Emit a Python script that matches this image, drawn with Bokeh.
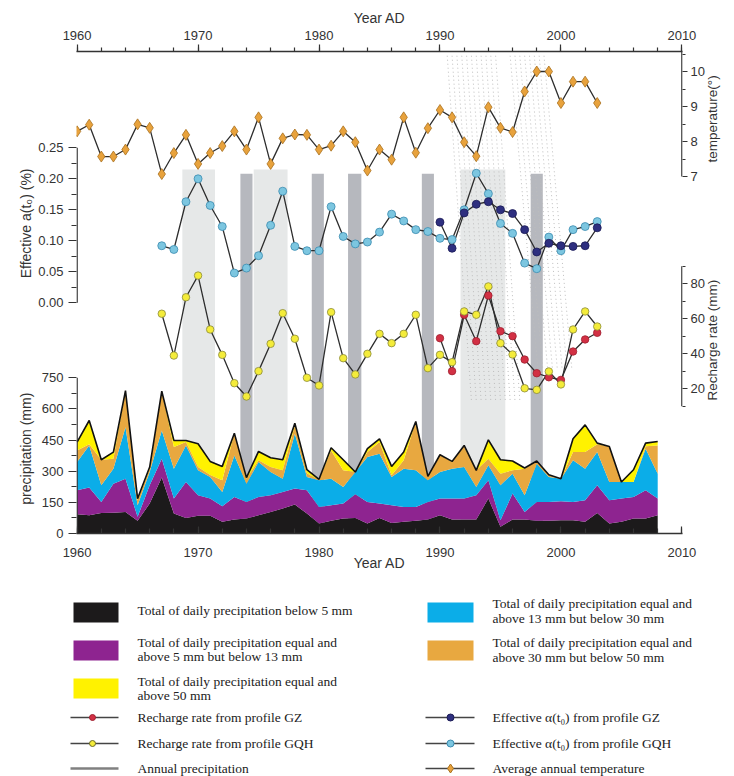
import numpy as np
from bokeh.plotting import figure
from bokeh.layouts import column
from bokeh.models import (Range1d, LinearAxis, FixedTicker, CustomJSTickFormatter,
                          ColumnDataSource)
from bokeh.core.properties import value
from bokeh.embed import file_html
from bokeh.resources import INLINE

# ---------------- data ----------------
years_p = list(range(1960, 2009))
below5 = [93, 88, 99, 100, 104, 61, 144, 269, 96, 75,
          85, 85, 56, 67, 72, 88, 104, 120, 139, 96,
          48, 61, 72, 75, 48, 75, 51, 56, 61, 67,
          88, 67, 67, 67, 168, 32, 67, 67, 61, 61,
          64, 64, 56, 99, 48, 56, 72, 72, 88]
from5to13 = [115, 133, 53, 140, 160, 19, 88, 91, 72, 173,
             99, 83, 75, 109, 80, 88, 80, 80, 77, 112,
             80, 75, 72, 114, 104, 69, 85, 72, 67, 85,
             80, 101, 101, 117, 88, 32, 125, 37, 91, 91,
             91, 88, 104, 133, 112, 112, 104, 136, 80]
from13to30 = [136, 203, 80, 72, 248, 56, 64, 136, 144, 176,
              120, 104, 69, 200, 88, 168, 112, 64, 264, 64,
              128, 128, 80, 107, 216, 240, 136, 184, 176, 104,
              128, 144, 152, 40, 72, 168, 96, 80, 184, 120,
              109, 200, 152, 160, 88, 80, 72, 200, 120]
from30to50 = [56, 6, 123, 48, 176, 24, 14, 189, 104, 16,
              16, 10, 56, 107, 24, 8, 24, 40, 40, 18,
              2, 136, 80, 0, 24, 56, 8, 40, 235, 19,
              83, 32, 104, 80, 32, 56, 16, 128, 13, 11,
              0, 40, 80, 38, 171, 0, 0, 12, 136]
above50 = [40, 114, 0, 32, 0, 8, 10, 0, 32, 8,
           112, 65, 67, 0, 5, 43, 45, 51, 11, 17,
           3, 13, 51, 0, 16, 16, 43, 40, 0, 0,
           0, 3, 0, 0, 91, 67, 45, 3, 0, 0,
           0, 64, 131, 5, 0, 0, 59, 15, 19]

years_t = list(range(1960, 2004))
temperature = [8.29, 8.48, 7.57, 7.57, 7.77, 8.49, 8.39, 7.07, 7.67, 8.19,
               7.36, 7.67, 7.87, 8.29, 7.77, 8.69, 7.36, 8.09, 8.20, 8.19,
               7.77, 7.88, 8.29, 7.98, 7.17, 7.77, 7.48, 8.69, 7.68, 8.38,
               8.90, 8.69, 7.98, 7.58, 8.98, 8.39, 8.27, 9.43, 10.0, 10.0,
               9.10, 9.71, 9.71, 9.10]

years_gqh = list(range(1967, 2004))
alpha_gqh = [0.092, 0.086, 0.163, 0.200, 0.157, 0.123, 0.048, 0.056, 0.076, 0.125,
             0.180, 0.091, 0.084, 0.084, 0.155, 0.107, 0.095, 0.098, 0.114, 0.143,
             0.132, 0.118, 0.115, 0.104, 0.102, 0.150, 0.209, 0.176, 0.128, 0.112,
             0.064, 0.055, 0.106, 0.084, 0.118, 0.123, 0.131]
recharge_gqh = [62.9, 39.0, 72.3, 84.7, 53.9, 39.4, 23.2, 15.6, 30.1, 45.7,
                63.2, 48.6, 26.3, 21.9, 63.8, 37.5, 28.2, 40.0, 51.4, 46.1,
                51.4, 62.3, 31.8, 39.4, 35.2, 64.2, 62.3, 78.5, 46.1, 39.6,
                20.3, 19.4, 29.9, 22.5, 53.9, 64.2, 55.6]

years_gz = list(range(1990, 2004))
alpha_gz = [0.130, 0.088, 0.145, 0.159, 0.163, 0.150, 0.144, 0.118, 0.082, 0.096,
            0.092, 0.091, 0.092, 0.121]
recharge_gz = [48.9, 30.1, 62.3, 47.2, 73.3, 52.9, 50.1, 36.7, 28.9, 26.6,
               25.1, 41.3, 48.2, 52.0]

light_bands = [(1968.7, 1971.4), (1974.6, 1977.4), (1991.7, 1995.4)]
dark_bands = [(1973.5, 1974.5), (1979.4, 1980.4), (1982.4, 1983.5),
              (1988.5, 1989.5), (1997.5, 1998.5)]

guide_group1 = [1990.6, 1991.0, 1991.4, 1991.8, 1992.2, 1992.6, 1993.0,
                1993.4, 1993.8, 1994.2, 1994.6]
guide_group2 = [1995.8, 1996.2, 1996.6, 1997.0, 1997.4, 1997.8, 1998.2, 1998.6]

year_major = list(range(1960, 2011, 10))
year_minor = list(range(1960, 2011, 2))
precip_major = [0, 150, 300, 450, 600, 750]
precip_minor = [75, 225, 375, 525, 675]
alpha_major = [0.0, 0.05, 0.10, 0.15, 0.20, 0.25]
alpha_minor = [0.025, 0.075, 0.125, 0.175, 0.225]
temp_major = [7, 8, 9, 10]
temp_minor = [7.5, 8.5, 9.5, 10.5]
rech_major = [20, 40, 60, 80]
rech_minor = [10, 30, 50, 70, 90]

# ---------------- layout helpers ----------------
FONT = "Liberation Sans"
SERIF = "Liberation Serif"
INK = "#333333"
FRAME_TOP, FRAME_BOTTOM = 51, 533


def scale_range(v1, y1, v2, y2):
    k = (v2 - v1) / (y2 - y1)
    return Range1d(v1 + (FRAME_BOTTOM - y1) * k, v1 + (FRAME_TOP - y1) * k)


precip_rng = scale_range(-1, 533.2, 750, 377.2)
temp_rng = scale_range(7, 176, 10, 71)
alpha_rng = scale_range(0, 302.3, 0.25, 147.3)
rech_rng = scale_range(20, 388.3, 80, 283.3)


def to_other(v, src, dst):
    return dst.start + (v - src.start) / (src.end - src.start) * (dst.end - dst.start)


p = figure(width=734, height=590, x_range=Range1d(1959.95, 2010.05), y_range=precip_rng,
           output_backend="svg", toolbar_location=None,
           min_border_left=76, min_border_right=52, min_border_top=FRAME_TOP,
           min_border_bottom=590 - FRAME_BOTTOM,
           background_fill_color="white", border_fill_color="white")
p.outline_line_color = None
p.frame_align = False
p.extra_y_ranges = {"temp": temp_rng, "alpha": alpha_rng, "rech": rech_rng}
p.xgrid.visible = False
p.ygrid.visible = False

# shaded periods
p.quad(left=[b[0] for b in light_bands], right=[b[1] for b in light_bands],
       top=0.215, bottom=alpha_rng.start, y_range_name="alpha",
       fill_color="#E6E8E8", line_color=None)
p.quad(left=[b[0] for b in dark_bands], right=[b[1] for b in dark_bands],
       top=0.208, bottom=alpha_rng.start, y_range_name="alpha",
       fill_color="#B6B8BE", line_color=None)

# diagonal dotted guides
p.segment(x0=guide_group1, y0=10.45, x1=[g + 2.0 for g in guide_group1], y1=0.6,
          y_range_name="temp", line_color="#BDBDBD", line_width=1, line_dash="1 3")
p.segment(x0=guide_group2, y0=10.45, x1=[g + 2.3 for g in guide_group2], y1=1.5,
          y_range_name="temp", line_color="#BDBDBD", line_width=1, line_dash="1 3")

# stacked precipitation
src = ColumnDataSource(dict(year=years_p, below5=below5, from5to13=from5to13,
                            from13to30=from13to30, from30to50=from30to50, above50=above50))
layer_colors = ["#1C1A1B", "#8E2490", "#0BADE8", "#E8A840", "#FFF200"]
p.varea_stack(stackers=["below5", "from5to13", "from13to30", "from30to50", "above50"],
              x="year", color=layer_colors, source=src)
total = (np.array(below5) + np.array(from5to13) + np.array(from13to30)
         + np.array(from30to50) + np.array(above50))
p.line(years_p, total, line_color="#111111", line_width=1.6)

# temperature
p.line(years_t, temperature, y_range_name="temp", line_color="#2D2D2D", line_width=1.3)
p.scatter(years_t, temperature, y_range_name="temp", marker="diamond", size=11,
          fill_color="#E8A23C", line_color="#A8701E", line_width=0.8)

# effective alpha
p.line(years_gqh, alpha_gqh, y_range_name="alpha", line_color="#2D2D2D", line_width=1.3)
p.line(years_gz, alpha_gz, y_range_name="alpha", line_color="#2D2D2D", line_width=1.3)
p.scatter(years_gqh, alpha_gqh, y_range_name="alpha", size=8,
          fill_color="#7CC6E0", line_color="#3C8CB0", line_width=0.8)
p.scatter(years_gz, alpha_gz, y_range_name="alpha", size=8,
          fill_color="#2E2F7F", line_color="#1B1B55", line_width=0.8)

# recharge
p.line(years_gqh, recharge_gqh, y_range_name="rech", line_color="#2D2D2D", line_width=1.3)
p.line(years_gz, recharge_gz, y_range_name="rech", line_color="#2D2D2D", line_width=1.3)
p.scatter(years_gz, recharge_gz, y_range_name="rech", size=7.5,
          fill_color="#D23044", line_color="#A02030", line_width=0.8)
p.scatter(years_gqh, recharge_gqh, y_range_name="rech", size=7.5,
          fill_color="#F4EC3A", line_color="#8A8A3A", line_width=0.8)

# vertical spines (segments, with gaps between the stacked scales)
p.segment(x0=1960, y0=0, x1=1960, y1=750, line_color=INK, line_width=1.4)
p.segment(x0=1960, y0=0, x1=1960, y1=0.25, y_range_name="alpha", line_color=INK, line_width=1.4)
p.segment(x0=2010, y0=7, x1=2010, y1=temp_rng.end, y_range_name="temp", line_color=INK, line_width=1.4)
p.segment(x0=2010, y0=10, x1=2010, y1=90, y_range_name="rech", line_color=INK, line_width=1.4)


def style_axis(ax):
    ax.axis_line_color = INK
    ax.major_tick_line_color = INK
    ax.minor_tick_line_color = INK
    ax.axis_line_width = 1.4
    ax.major_tick_line_width = 1.2
    ax.minor_tick_line_width = 1.2
    ax.major_label_text_font = FONT
    ax.major_label_text_font_size = "13px"
    ax.major_label_text_color = INK
    ax.axis_label_text_font = FONT
    ax.axis_label_text_font_size = "14px"
    ax.axis_label_text_font_style = "normal"
    ax.axis_label_text_color = INK


# bottom year axis
bx = p.xaxis[0]
style_axis(bx)
bx.ticker = FixedTicker(ticks=year_major, minor_ticks=year_minor)
bx.major_tick_in, bx.major_tick_out = 7, 0
bx.minor_tick_in, bx.minor_tick_out = 5, 0
bx.major_label_standoff = 14
bx.axis_label = "Year AD"
bx.axis_label_standoff = -5

# top year axis
tx = LinearAxis(ticker=FixedTicker(ticks=year_major, minor_ticks=year_minor),
                axis_label="Year AD")
style_axis(tx)
tx.major_tick_in, tx.major_tick_out = 0, 7
tx.minor_tick_in, tx.minor_tick_out = 0, 4
tx.major_label_standoff = 5
tx.axis_label_standoff = 2
p.add_layout(tx, "above")

# left axis: precipitation + effective alpha
ly = p.yaxis[0]
style_axis(ly)
ly.axis_line_color = None
ly.ticker = FixedTicker(
    ticks=precip_major + [to_other(a, alpha_rng, precip_rng) for a in alpha_major],
    minor_ticks=precip_minor + [to_other(a, alpha_rng, precip_rng) for a in alpha_minor])
ly.formatter = CustomJSTickFormatter(
    args=dict(m0=precip_rng.start, m1=precip_rng.end, a0=alpha_rng.start, a1=alpha_rng.end),
    code="""
    if (tick <= 760) { return Math.round(tick).toString(); }
    const a = a0 + (tick - m0) / (m1 - m0) * (a1 - a0);
    return (a + 1e-9).toFixed(2);
    """)
ly.major_tick_in, ly.major_tick_out = 0, 8
ly.minor_tick_in, ly.minor_tick_out = 0, 5
ly.major_label_standoff = 5

# right axis: temperature + recharge
ry = LinearAxis(y_range_name="temp")
style_axis(ry)
ry.axis_line_color = None
ry.ticker = FixedTicker(
    ticks=temp_major + [to_other(r, rech_rng, temp_rng) for r in rech_major],
    minor_ticks=temp_minor + [to_other(r, rech_rng, temp_rng) for r in rech_minor])
ry.formatter = CustomJSTickFormatter(
    args=dict(t0=temp_rng.start, t1=temp_rng.end, r0=rech_rng.start, r1=rech_rng.end),
    code="""
    if (tick >= 6.5) { return Math.round(tick).toString(); }
    const r = r0 + (tick - t0) / (t1 - t0) * (r1 - r0);
    return Math.round(r).toString();
    """)
ry.major_tick_in, ry.major_tick_out = 0, 5
ry.minor_tick_in, ry.minor_tick_out = 0, 3
ry.major_label_standoff = 3
p.add_layout(ry, "right")


# side titles: placed as rotated tick labels of tick-less outer axes
def title_axis(ax, standoff, size):
    ax.axis_line_color = None
    ax.major_tick_line_color = None
    ax.minor_tick_line_color = None
    ax.major_tick_in = ax.major_tick_out = 0
    ax.minor_tick_in = ax.minor_tick_out = 0
    ax.major_label_orientation = np.pi / 2
    ax.major_label_standoff = standoff
    ax.major_label_text_font = FONT
    ax.major_label_text_font_size = size
    ax.major_label_text_color = INK


# (labels are anchored at one end; tick = upper end on the left, lower end on the right)
lt = LinearAxis(ticker=FixedTicker(ticks=[678, to_other(0.2166, alpha_rng, precip_rng)],
                                   minor_ticks=[]),
                formatter=CustomJSTickFormatter(
                    code="return tick < 1000 ? 'precipitation (mm)' : 'Effective a(t\u2080) (%)';"))
title_axis(lt, 9, "14px")
p.add_layout(lt, "left")

rt = LinearAxis(y_range_name="temp",
                ticker=FixedTicker(ticks=[7.4, to_other(13.3, rech_rng, temp_rng)],
                                   minor_ticks=[]),
                formatter=CustomJSTickFormatter(
                    code="return tick >= 6.5 ? 'temperature(\u00b0)' : 'Recharge rate (mm)';"))
title_axis(rt, 5, "13.5px")
p.add_layout(rt, "right")

# ---------------- legend figure ----------------
leg = figure(frame_width=734, frame_height=186, x_range=Range1d(0, 734), y_range=Range1d(186, 0),
             output_backend="svg", toolbar_location=None, min_border=0,
             x_axis_type=None, y_axis_type=None,
             background_fill_color="white", border_fill_color="white")
leg.outline_line_color = None
leg.frame_align = False
leg.grid.visible = False

leg.quad(left=[73, 73, 73, 427, 427], right=[118, 118, 118, 473, 473],
         top=[12, 50, 88, 12, 50], bottom=[32, 70, 108, 32, 70],
         fill_color=[layer_colors[0], layer_colors[1], layer_colors[4],
                     layer_colors[2], layer_colors[3]], line_color=None)
leg.segment(x0=[70, 70, 425, 425, 425], y0=[127, 153, 127, 153, 178],
            x1=[118, 118, 474, 474, 474], y1=[127, 153, 127, 153, 178],
            line_color="#444444", line_width=1.3)
leg.segment(x0=[70], y0=[178], x1=[118], y1=[178], line_color="#808080", line_width=2.5)
leg.scatter(x=[92, 92, 450, 450], y=[127, 153, 127, 153], size=[6, 6, 7, 7],
            fill_color=["#D23044", "#F4EC3A", "#2E2F7F", "#7CC6E0"],
            line_color=["#A02030", "#6A6A2A", "#1B1B55", "#3C8CB0"])
leg.scatter(x=[450], y=[178], marker="diamond", size=9,
            fill_color="#E8A23C", line_color="#A8701E")

lx = [137] * 8 + [492] * 7
lyy = [20, 52, 66, 91, 105, 127, 153, 178,
       13, 28, 52, 67, 127, 153, 178]
ltxt = ["Total of daily precipitation below 5 mm",
        "Total of daily precipitation equal and",
        "above 5 mm but below 13 mm",
        "Total of daily precipitation equal and",
        "above 50 mm",
        "Recharge rate from  profile GZ",
        "Recharge rate from profile GQH",
        "Annual precipitation",
        "Total of daily precipitation equal and",
        "above 13 mm but below 30 mm",
        "Total of daily precipitation equal and",
        "above 30 mm but below 50 mm",
        "Effective \u03b1(t\u2080)  from  profile GZ",
        "Effective \u03b1(t\u2080)  from  profile GQH",
        "Average annual temperature"]
leg.text(x=lx, y=lyy, text=ltxt, text_font=value(SERIF), text_font_size="13.5px",
         text_baseline="middle", text_align="left", text_color="#222222")

layout = column(p, leg, spacing=0)
open("out.html", "w").write(file_html(layout, INLINE))
